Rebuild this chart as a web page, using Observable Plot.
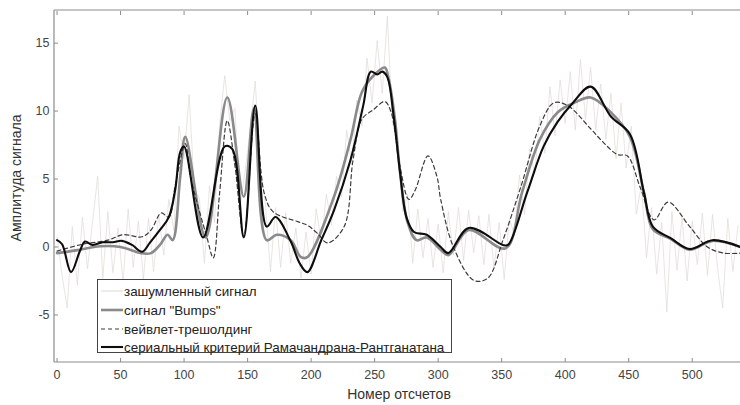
<!DOCTYPE html>
<html><head><meta charset="utf-8">
<script src="https://cdn.jsdelivr.net/npm/d3@7"></script>
<script src="https://cdn.jsdelivr.net/npm/@observablehq/plot@0.6"></script>
<style>body{margin:0;background:#fff}</style>
</head><body><div id="chart"></div>
<script>
// ---- data ----
const xTicks = [0, 50, 100, 150, 200, 250, 300, 350, 400, 450, 500];
const yTicks = [-5, 0, 5, 10, 15];
const seriesNames = ["зашумленный сигнал", "сигнал \"Bumps\"", "вейвлет-трешолдинг", "сериальный критерий Рамачандрана-Рантганатана"];
const xLabel = "Номер отсчетов";
const yLabel = "Амплитуда сигнала";

const noiseX = [0,4,8,12,16,20,24,28,32,36,40,44,48,52,56,60,64,68,72,76,80,84,88,92,96,100,104,108,112,116,120,124,128,132,136,140,144,148,152,156,160,164,168,172,176,180,184,188,192,196,200,204,208,212,216,220,224,228,232,236,240,244,248,252,256,260,264,268,272,276,280,284,288,292,296,300,304,308,312,316,320,324,328,332,336,340,344,348,352,356,360,364,368,372,376,380,384,388,392,396,400,404,408,412,416,420,424,428,432,436,440,444,448,452,456,460,464,468,472,476,480,484,488,492,496,500,504,508,512,516,520,524,528,532,536];
const noiseY = [0.8,-2.1,-4.5,1.5,-2.8,2.2,-1.6,1.9,5.2,-2.3,2.6,-1.9,1.4,-2.6,2.8,-1.5,1.9,-2.4,2.1,-1.8,2.4,-0.6,3.5,1.2,8.9,6.5,11.2,4.3,3.6,-1.2,4.5,1.8,9.0,12.6,9.3,10.2,2.9,5.5,8.6,12.2,5.8,3.2,-1.8,2.9,-1.5,2.5,-1.2,1.4,-2.3,1.1,-2.0,2.8,0.4,3.9,1.6,5.2,3.7,8.6,6.1,10.8,8.9,13.9,10.6,15.2,11.3,17.0,9.1,7.9,2.6,3.9,-1.2,2.8,-0.8,2.1,-1.5,1.7,-1.9,2.6,-0.6,2.9,-1.0,2.7,-0.4,2.3,-1.3,2.4,-1.6,1.8,-2.4,2.1,0.9,5.3,2.4,7.2,5.4,9.6,6.9,11.8,8.2,12.3,9.1,12.9,8.6,13.8,9.4,13.2,8.6,12.0,7.9,11.3,6.5,10.6,5.8,8.9,2.4,4.6,-0.8,2.9,-2.0,1.8,-4.8,2.6,-1.7,2.2,-2.5,1.9,-1.3,2.5,-2.1,2.4,-1.6,-4.5,2.1,-1.8,1.6];

const bumpsX = [0,15,34,50,66,74,81,87,91,97,101,117,134,147,155,165,173,184,192,197,218,231,240,249,258,261,266,270,276,283,291,302,308,324,353,366,380,394,407,420,436,451,462,469,483,498,516,538];
const bumpsY = [-0.45,-0.25,0.05,0,-0.45,-0.45,0.15,0.9,0.5,5.2,8.1,0.7,11.0,3.7,10.2,0.5,0.9,0.5,-0.75,-0.75,3.7,7.9,11.4,12.6,13.2,12.4,9.4,5.5,1.8,0.5,0.7,-0.2,-0.6,1.25,-0.1,4.0,7.9,9.9,10.6,11.0,9.9,8.1,4.0,1.3,0.6,-0.2,0.45,0];

const waveletX = [0,20,40,52,67,74,82,88,93,101,105,118,123,128,134,140,147,156,163,170,190,197,205,213,226,233,240,249,258,263,270,277,282,292,299,302,312,328,339,351,365,380,391,402,420,430,441,449,459,470,481,498,512,525,538];
const waveletY = [-0.3,0.2,0.5,0.9,0.75,1.25,2.5,2.2,4.5,7.6,5.2,0.7,-0.8,4.0,9.3,6.0,0.8,9.8,4.0,2.6,1.85,1.6,1.0,0.3,1.5,6.4,9.4,10.1,10.7,9.9,5.9,3.5,4.2,6.7,5.2,3.5,0,-2.45,-2.3,0.5,4.4,8.9,10.6,10.4,8.7,7.7,6.8,6.7,4.4,2.0,3.3,1.5,0,-0.45,-0.45];

const serialX = [0,4,11,18,22,28,36,44,51,59,67,73,81,88,93,97,100,115,132,138,147,156,165,172,184,191,197,208,218,231,241,247,252,256,260,265,270,275,281,291,302,308,324,351,355,370,383,394,406,420,436,451,462,469,483,498,516,538];
const serialY = [0.5,0.2,-1.85,-0.3,0.4,0.15,0.35,0.35,0.45,0.15,-0.35,0.3,1.25,2.2,4.2,7.0,7.4,0.7,7.4,7.2,0.7,10.4,1.5,2.2,0.4,-1.2,-1.85,0.5,2.7,6.4,10.4,12.9,12.7,12.9,12.5,9.6,5.5,2.2,1.1,0.9,0,-0.45,1.4,0.15,0.15,4.0,7.4,9.2,10.6,11.8,9.6,8.3,4.0,1.5,0.65,-0.15,0.5,0];

const toRows = (xs, ys) => xs.map((x, i) => ({x, y: ys[i]}));
const noise = toRows(noiseX, noiseY);
const bumps = toRows(bumpsX, bumpsY);
const wavelet = toRows(waveletX, waveletY);
const serial = toRows(serialX, serialY);

const styles = [
  {stroke: "#e0dad4", strokeWidth: 0.7, dash: null},
  {stroke: "#8a8a8a", strokeWidth: 2.6, dash: null},
  {stroke: "#3c3c3c", strokeWidth: 1.2, dash: "4,3"},
  {stroke: "#0d0d0d", strokeWidth: 2.1, dash: null}
];

const fmt = d => String(d);
const chart = Plot.plot({
  width: 740, height: 405,
  marginLeft: 54, marginRight: 0, marginTop: 10, marginBottom: 43,
  x: {domain: [-2, 538]},
  y: {domain: [-8.5, 17.4]},
  style: {fontFamily: "'Liberation Sans', Arial, sans-serif", fontSize: "12.5px", background: "#fff", overflow: "visible"},
  marks: [
    Plot.line(noise, {x: "x", y: "y", stroke: styles[0].stroke, strokeWidth: styles[0].strokeWidth, clip: true}),
    Plot.line(bumps, {x: "x", y: "y", stroke: styles[1].stroke, strokeWidth: styles[1].strokeWidth, curve: "catmull-rom"}),
    Plot.line(wavelet, {x: "x", y: "y", stroke: styles[2].stroke, strokeWidth: styles[2].strokeWidth, strokeDasharray: styles[2].dash, curve: "catmull-rom"}),
    Plot.line(serial, {x: "x", y: "y", stroke: styles[3].stroke, strokeWidth: styles[3].strokeWidth, curve: "catmull-rom"}),
    Plot.axisX({anchor: "bottom", ticks: xTicks, tickSize: -4, tickPadding: 12, tickFormat: fmt, stroke: "#8c8c8c", fill: "#444", label: null}),
    Plot.axisX({anchor: "top", ticks: xTicks, tickSize: -4, tickFormat: () => "", stroke: "#8c8c8c", label: null}),
    Plot.axisY({anchor: "left", ticks: yTicks, tickSize: -4, tickPadding: 9, tickFormat: fmt, stroke: "#8c8c8c", fill: "#444", label: null})
  ]
});
document.getElementById("chart").appendChild(chart);

// frame (top, left, bottom) and labels
const svg = d3.select(chart);
const xs = chart.scale("x"), ys = chart.scale("y");
const [x0, x1] = xs.range, [yb, yt] = ys.range;
const g = svg.append("g").attr("stroke", "#8c8c8c").attr("stroke-width", 1.2).attr("fill", "none");
g.append("line").attr("x1", x0).attr("x2", x1).attr("y1", yt).attr("y2", yt);
g.append("line").attr("x1", x0).attr("x2", x1).attr("y1", yb).attr("y2", yb);
g.append("line").attr("x1", x0).attr("x2", x0).attr("y1", yt).attr("y2", yb);

svg.append("text").attr("x", 399).attr("y", 399).attr("text-anchor", "middle")
  .attr("fill", "#333").attr("font-size", 14).text(xLabel);
svg.append("text").attr("transform", `translate(21,${(yt + yb) / 2 - 8}) rotate(-90)`).attr("text-anchor", "middle")
  .attr("fill", "#333").attr("font-size", 14).text(yLabel);

// legend
const lg = svg.append("g").attr("text-anchor", "start");
lg.append("rect").attr("x", 97.5).attr("y", 279.5).attr("width", 354).attr("height", 73)
  .attr("fill", "#fff").attr("stroke", "#444").attr("stroke-width", 1);
const rowY = [291, 310, 329, 347];
seriesNames.forEach((name, i) => {
  const s = styles[i];
  lg.append("line").attr("x1", 101).attr("x2", 123).attr("y1", rowY[i]).attr("y2", rowY[i])
    .attr("stroke", i === 0 ? "#cfc9c3" : s.stroke).attr("stroke-width", s.strokeWidth).attr("stroke-dasharray", s.dash);
  lg.append("text").attr("x", 124).attr("y", rowY[i]).attr("dy", "0.35em").attr("text-anchor", "start")
    .attr("fill", "#222").attr("font-size", 13.4).text(name);
});
</script>
</body></html>
